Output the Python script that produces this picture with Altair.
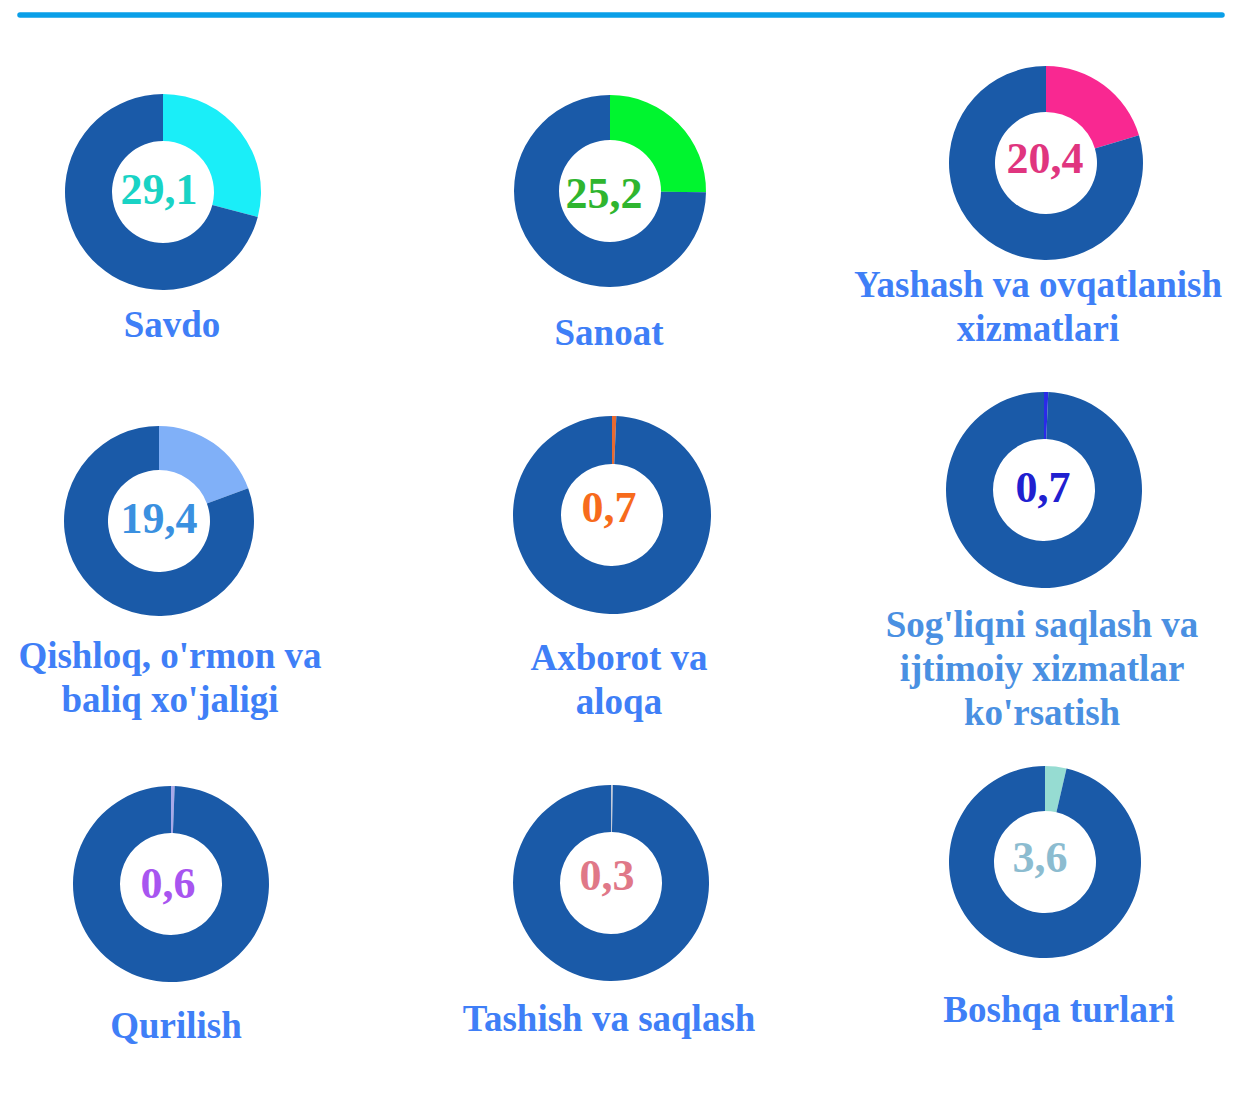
import altair as alt
import pandas as pd

# ---------------- data ----------------
categories = [
    "Savdo",
    "Sanoat",
    "Yashash va ovqatlanish\nxizmatlari",
    "Qishloq, o'rmon va\nbaliq xo'jaligi",
    "Axborot va\naloqa",
    "Sog'liqni saqlash va\nijtimoiy xizmatlar\nko'rsatish",
    "Qurilish",
    "Tashish va saqlash",
    "Boshqa turlari",
]
shares = [29.1, 25.2, 20.4, 19.4, 0.7, 0.7, 0.6, 0.3, 3.6]
value_labels = ["29,1", "25,2", "20,4", "19,4", "0,7", "0,7", "0,6", "0,3", "3,6"]

# ---------------- styles ----------------
base_color = "#1a5aa8"
slice_colors = ["#1aeef8", "#00f52f", "#f92891", "#80b0f8", "#e86a30",
                "#2a2ae8", "#a8a8e8", "#c4cad8", "#96dcd2"]
number_colors = ["#19d3c5", "#2fb52f", "#e0357f", "#3a90e0", "#f76b1c",
                 "#2020d0", "#a855f0", "#e07888", "#8cbcd0"]
label_colors = ["#3f7ff7", "#3f7ff7", "#3f7ff7", "#3f7ff7", "#3f7ff7",
                "#4a90e2", "#3f7ff7", "#3f7ff7", "#3f7ff7"]

# ---------------- layout (pixels) ----------------
centers = [(155, 184), (602, 183), (1038, 155), (151, 513), (604, 507),
           (1036, 482), (163, 876), (603, 875), (1037, 854)]
outer_r = [98, 96, 97, 95, 99, 98, 98, 98, 96]
inner_r = 51
number_pos = [(151, 196), (596, 200), (1037, 165), (151, 525), (601, 514),
              (1035, 494), (160, 890), (599, 882), (1032, 864)]
label_pos = [(164, 329), (601, 337), (1030, 289), (162, 660), (611, 662),
             (1034, 629), (168, 1030), (601, 1023), (1051, 1014)]

rows = []
for i, (cat, s) in enumerate(zip(categories, shares)):
    rows.append({"idx": i, "part": "share", "ord": 0, "v": s,
                 "fill": slice_colors[i], "lab": value_labels[i],
                 "tcol": number_colors[i], "cat": cat, "lcol": label_colors[i]})
    rows.append({"idx": i, "part": "rest", "ord": 1, "v": round(100 - s, 1),
                 "fill": base_color, "lab": value_labels[i],
                 "tcol": number_colors[i], "cat": cat, "lcol": label_colors[i]})
df = pd.DataFrame(rows)

layers = []
rule_df = pd.DataFrame({"a": [0]})
layers.append(
    alt.Chart(rule_df).mark_rule(color="#0a9fe8", strokeWidth=5.5, strokeCap="round")
    .encode(x=alt.value(12), x2=alt.value(1214), y=alt.value(7))
)

for i in range(len(categories)):
    cx, cy = centers[i]
    base = alt.Chart(df).transform_filter(alt.datum.idx == i)
    arc = base.mark_arc(outerRadius=outer_r[i], innerRadius=inner_r).encode(
        theta=alt.Theta("v:Q", stack=True, scale=alt.Scale(domain=[0, 100])),
        order=alt.Order("ord:Q"),
        color=alt.Color("fill:N", scale=None),
        x=alt.value(cx),
        y=alt.value(cy),
    )
    nx, ny = number_pos[i]
    num = base.transform_filter(alt.datum.part == "share").mark_text(
        font="Liberation Serif", fontWeight="bold", fontSize=44,
        baseline="alphabetic", align="center",
    ).encode(
        text="lab:N",
        color=alt.Color("tcol:N", scale=None),
        x=alt.value(nx),
        y=alt.value(ny),
    )
    lx, ly = label_pos[i]
    lab = base.transform_filter(alt.datum.part == "share").mark_text(
        font="Liberation Serif", fontWeight="bold", fontSize=37,
        baseline="alphabetic", align="center", lineBreak="\n", lineHeight=44,
    ).encode(
        text="cat:N",
        color=alt.Color("lcol:N", scale=None),
        x=alt.value(lx),
        y=alt.value(ly),
    )
    layers += [arc, num, lab]

chart = alt.layer(*layers).properties(
    width=1217, height=1090, padding=0,
    autosize=alt.AutoSizeParams(type="none"),
    background="white",
).configure_view(stroke=None)

chart.save("out.html", embed_options={"renderer": "svg", "actions": False})
